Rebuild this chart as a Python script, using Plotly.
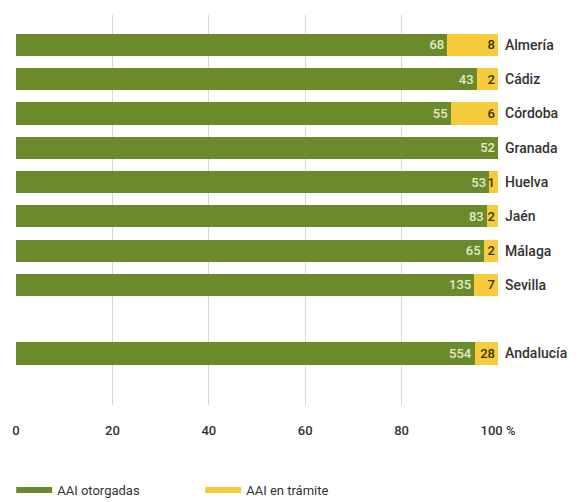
import plotly.graph_objects as go

categories = ["Almería", "Cádiz", "Córdoba", "Granada", "Huelva", "Jaén", "Málaga", "Sevilla", " ", "Andalucía"]
otorgadas = [68, 43, 55, 52, 53, 83, 65, 135, None, 554]
tramite = [8, 2, 6, 0, 1, 2, 2, 7, None, 28]
tick_vals = [0, 20, 40, 60, 80, 100]
tick_text = ["0", "20", "40", "60", "80", "100 %"]

GREEN = "#6b8a2c"
YELLOW = "#f6cb3c"
FONT = "Roboto, sans-serif"

pct_o, pct_t, txt_o, txt_t = [], [], [], []
for o, t in zip(otorgadas, tramite):
    if o is None:
        pct_o.append(None); pct_t.append(None); txt_o.append(""); txt_t.append("")
        continue
    tot = o + t
    pct_o.append(o / tot * 100)
    pct_t.append(t / tot * 100)
    txt_o.append(str(o))
    txt_t.append(str(t) if t else "")

fig = go.Figure()
fig.add_trace(go.Bar(
    y=categories, x=pct_o, orientation="h", marker=dict(color=GREEN, line=dict(width=0)),
    text=txt_o, textposition="inside", insidetextanchor="end", constraintext="none",
    textfont=dict(color="#e2eac6", size=13, family=FONT, weight=500), showlegend=False, hoverinfo="skip",
))
fig.add_trace(go.Bar(
    y=categories, x=pct_t, orientation="h", marker=dict(color=YELLOW, line=dict(width=0)),
    text=txt_t, textposition="inside", insidetextanchor="end", constraintext="none",
    textfont=dict(color="#3d3311", size=13, family=FONT, weight=500), showlegend=False, hoverinfo="skip",
))
fig.add_trace(go.Scatter(x=[None], y=[None], mode="lines", name="AAI otorgadas",
                         line=dict(color=GREEN, width=6)))
fig.add_trace(go.Scatter(x=[None], y=[None], mode="lines", name="AAI en trámite",
                         line=dict(color=YELLOW, width=6)))

fig.update_layout(
    width=579, height=502,
    barmode="stack", bargap=0.35,
    plot_bgcolor="white", paper_bgcolor="white",
    margin=dict(l=8, r=89, t=7, b=105, autoexpand=False),
    font=dict(family=FONT, size=13, color="#333333", weight=500),
    xaxis=dict(range=[0, 100], tickvals=tick_vals, ticktext=tick_text, showgrid=True,
               gridcolor="#d6d6d6", gridwidth=1, zeroline=False, showline=False,
               ticks="", ticklabelstandoff=16, tickfont=dict(size=13, color="#333333", weight=500)),
    yaxis=dict(categoryorder="array", categoryarray=categories, autorange=False,
               range=[10.5, -0.87], side="right", showgrid=False, zeroline=False,
               ticks="", ticklabelstandoff=6, tickfont=dict(size=14, color="#333333", weight=500)),
    legend=dict(orientation="h", x=-0.01, xanchor="left", y=-0.218, yanchor="middle",
                traceorder="normal", entrywidth=138,
                font=dict(size=13, color="#333333", weight=400), itemwidth=36),
)

fig.write_html("out.html")
